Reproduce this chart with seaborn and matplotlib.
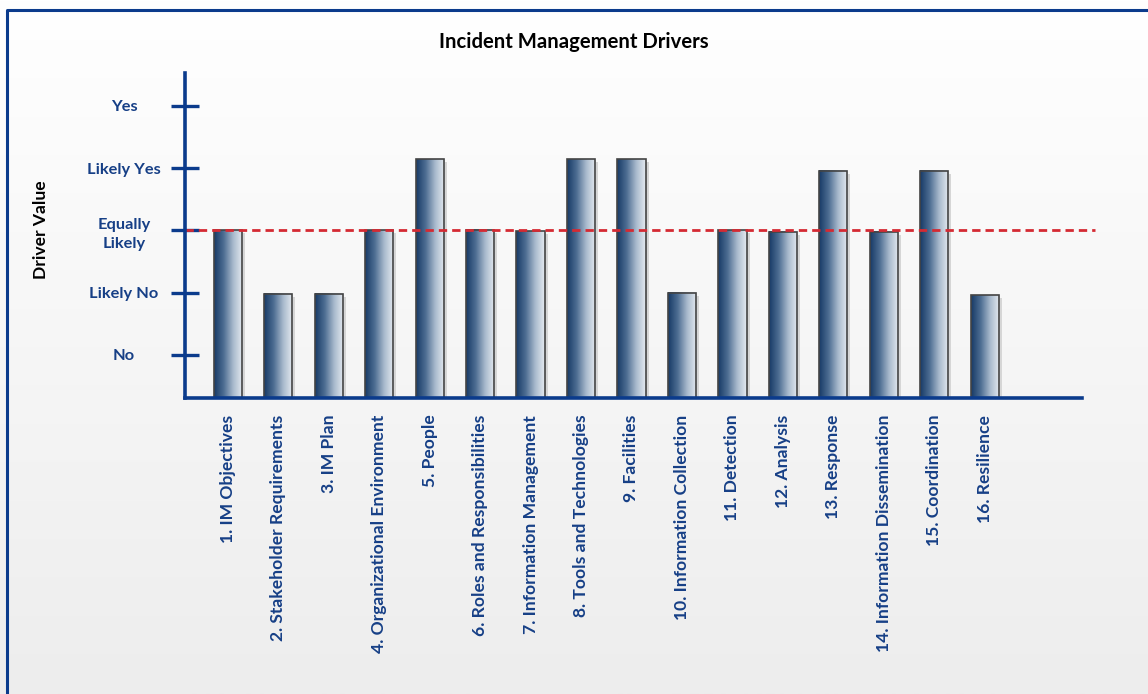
import numpy as np
import seaborn as sns
import matplotlib.pyplot as plt
import matplotlib.transforms as mtransforms
from matplotlib.colors import LinearSegmentedColormap
from matplotlib.patches import Rectangle

drivers = [
    "1. IM Objectives", "2. Stakeholder Requirements", "3. IM Plan",
    "4. Organizational Environment", "5. People", "6. Roles and Responsibilities",
    "7. Information Management", "8. Tools and Technologies", "9. Facilities",
    "10. Information Collection", "11. Detection", "12. Analysis", "13. Response",
    "14. Information Dissemination", "15. Coordination", "16. Resilience",
]
driver_values = [3.0, 1.98, 1.98, 3.0, 4.14, 3.01, 2.99, 4.14, 4.14,
                 2.0, 3.0, 2.98, 3.96, 2.98, 3.96, 1.96]
level_pos = [1, 2, 3, 4, 5]
level_labels = ["No", "Likely No", "Equally\nLikely", "Likely Yes", "Yes"]
threshold = 3

navy = "#0b3b8c"
label_col = "#163f86"

sns.set_theme(style="white")
plt.rcParams["font.family"] = ["Lato", "DejaVu Sans"]

W, H = 1148, 694
fig = plt.figure(figsize=(W / 100, H / 100), dpi=100)

# background with soft vertical gradient and frame
bg = fig.add_axes([0, 0, 1, 1], zorder=-10)
grad_bg = np.linspace(0, 1, 256).reshape(-1, 1)
bg.imshow(grad_bg, extent=(0, W, H, 0), aspect="auto",
          cmap=LinearSegmentedColormap.from_list("bg", ["#ffffff", "#ededed"]))
bg.plot([7, 7, W + 5], [H + 5, 10, 10], color=navy, lw=2.2)
bg.set_xlim(0, W)
bg.set_ylim(H, 0)
bg.axis("off")

ax = fig.add_axes([185 / W, (H - 398) / H, (1082 - 185) / W, (398 - 73) / H])
ax.set_facecolor("none")

sns.barplot(x=drivers, y=driver_values, ax=ax, width=0.56, color="#1a3d6a")

# gradient fill + soft shadow for each bar
bar_cmap = LinearSegmentedColormap.from_list(
    "bar", ["#173a66", "#4d6d92", "#a9bacd", "#e6ebf1"])
grad = np.linspace(0, 1, 256).reshape(1, -1)
shadow_tr = mtransforms.offset_copy(ax.transData, fig=fig, x=3, y=-3, units="dots")
for p in list(ax.patches):
    x0, w, h = p.get_x(), p.get_width(), p.get_height()
    ax.add_patch(Rectangle((x0, 0), w, h, transform=shadow_tr,
                           facecolor="#d6d6d6", edgecolor="none", zorder=1.5))
    ax.imshow(grad, extent=(x0, x0 + w, 0, h), aspect="auto", cmap=bar_cmap,
              interpolation="bilinear", zorder=2)
    p.set_facecolor("none")
    p.set_edgecolor("#444444")
    p.set_linewidth(1.2)
    p.set_zorder(3)

ax.axhline(threshold, xmin=0, xmax=(1095 - 185) / (1082 - 185), clip_on=False,
           color="#d42a33", lw=2.0, linestyle=(0, (3.0, 1.8)), zorder=4)

ax.set_xlim(-0.85, 16.93)
ax.set_ylim(0.306, 5.53)

for side in ["top", "right"]:
    ax.spines[side].set_visible(False)
for side in ["left", "bottom"]:
    ax.spines[side].set_color(navy)
    ax.spines[side].set_linewidth(2.6)
    ax.spines[side].set_zorder(5)

ax.set_yticks(level_pos, level_labels)
ax.tick_params(axis="y", direction="inout", length=20, width=2.4, color=navy,
               pad=34, labelcolor=label_col, labelsize=11.8, left=True)
for t in ax.get_yticklabels():
    t.set_ha("center")
    t.set_multialignment("center")
    t.set_fontweight("bold")
    t.set_linespacing(1.5)

ax.tick_params(axis="x", length=0, pad=12, labelcolor=label_col, labelsize=12.6)
for t in ax.get_xticklabels():
    t.set_rotation(90)
    t.set_fontweight("bold")

ax.set_xlabel("")
ax.set_ylabel("")
fig.text(41 / W, 1 - 230 / H, "Driver Value", rotation=90, ha="center",
         va="center", fontsize=12.6, fontweight="bold", color="black")
fig.text(0.5, 1 - 42 / H, "Incident Management Drivers", ha="center",
         va="center", fontsize=14.6, fontweight="bold", color="black")

fig.savefig("out.png", dpi=100)
